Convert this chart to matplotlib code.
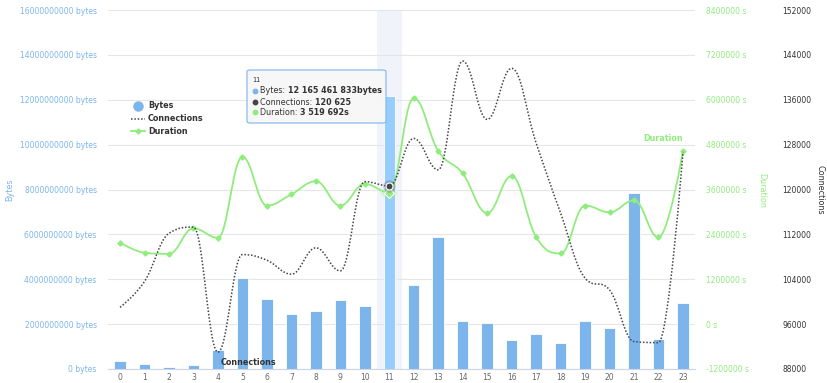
import matplotlib
matplotlib.use("Agg")
import matplotlib.pyplot as plt
from matplotlib.path import Path
from matplotlib.patches import PathPatch, FancyBboxPatch
from matplotlib.lines import Line2D
from matplotlib.text import Annotation
import numpy as np

# ---------------- data ----------------
hours = list(range(24))
bytes_vals = [3.7e8, 2.1e8, 0.9e8, 1.8e8, 8.5e8, 4.07e9, 3.12e9, 2.46e9, 2.58e9, 3.09e9,
              2.81e9, 12165461833, 3.73e9, 5.88e9, 2.15e9, 2.06e9, 1.28e9, 1.55e9, 1.14e9,
              2.12e9, 1.83e9, 7.84e9, 1.34e9, 2.94e9]
connections = [99000, 103600, 112200, 113300, 91000, 108400, 107400, 104900, 109600, 105500,
               121400, 120625, 129100, 123500, 142900, 132500, 141600, 128300, 115800,
               104200, 102100, 92900, 92700, 126700]
duration = [2.18e6, 1.91e6, 1.88e6, 2.56e6, 2.31e6, 4.47e6, 3.17e6, 3.47e6, 3.82e6, 3.17e6,
            3.75e6, 3519692, 6.04e6, 4.63e6, 4.03e6, 2.97e6, 3.96e6, 2.33e6, 1.89e6,
            3.17e6, 2.99e6, 3.31e6, 2.32e6, 4.63e6]
bytes_ticks = [0, 2e9, 4e9, 6e9, 8e9, 10e9, 12e9, 14e9, 16e9]
dur_ticks = [-1.2e6, 0, 1.2e6, 2.4e6, 3.6e6, 4.8e6, 6.0e6, 7.2e6, 8.4e6]
conn_ticks = [88000, 96000, 104000, 112000, 120000, 128000, 136000, 144000, 152000]
hover_idx = 11

BLUE = "#7cb5ec"
BLUE_HOVER = "#97cdfc"
GREEN = "#90ed7d"
DARK = "#434348"
TXT = "#333333"
GRID = "#e6e6e6"

W, H = 827, 383
fig = plt.figure(figsize=(W / 100, H / 100), dpi=100)
plt.rcParams['font.family'] = ['DejaVu Sans']

def fx(px):
    return px / W

def fy(py):
    return 1 - py / H

L, R, T, B = 107.8, 695.2, 10, 369
ax = fig.add_axes([fx(L), fy(B), fx(R) - fx(L), fy(T) - fy(B)])
ax2 = ax.twinx()
ax3 = ax.twinx()

def spline_path(xs, ys):
    n = len(xs)
    s, d = 1.5, 2.5
    lc = [(xs[i], ys[i]) for i in range(n)]
    rc = [(xs[i], ys[i]) for i in range(n)]
    for i in range(1, n - 1):
        x, y = xs[i], ys[i]
        lx = (s * x + xs[i - 1]) / d
        ly = (s * y + ys[i - 1]) / d
        rx = (s * x + xs[i + 1]) / d
        ry = (s * y + ys[i + 1]) / d
        if rx != lx:
            corr = ((ry - ly) * (rx - x)) / (rx - lx) + y - ry
            ly += corr
            ry += corr
        if ly > max(ys[i - 1], y):
            ly = max(ys[i - 1], y); ry = 2 * y - ly
        elif ly < min(ys[i - 1], y):
            ly = min(ys[i - 1], y); ry = 2 * y - ly
        if ry > max(y, ys[i + 1]):
            ry = max(y, ys[i + 1]); ly = 2 * y - ry
        elif ry < min(y, ys[i + 1]):
            ry = min(y, ys[i + 1]); ly = 2 * y - ry
        lc[i] = (lx, ly)
        rc[i] = (rx, ry)
    verts = [(xs[0], ys[0])]
    codes = [Path.MOVETO]
    for i in range(1, n):
        verts += [rc[i - 1], lc[i], (xs[i], ys[i])]
        codes += [Path.CURVE4] * 3
    return Path(verts, codes)

# ---------------- bytes axis ----------------
ax.set_xlim(-0.5, 23.5)
ax.set_ylim(0, 16e9)
ax.set_yticks(bytes_ticks)
ax.set_yticklabels([f"{int(v)} bytes" for v in bytes_ticks])
ax.set_xticks(hours)
ax.set_xticklabels([str(h) for h in hours])
ax.tick_params(axis='y', length=0, pad=8, labelsize=5.5, labelcolor=BLUE)
ax.tick_params(axis='x', length=0, pad=3, labelsize=5.5, labelcolor="#666666")
for sp in ['top', 'right', 'left']:
    ax.spines[sp].set_visible(False)
ax.spines['bottom'].set_color("#ccd6eb")
ax.spines['bottom'].set_linewidth(0.8)
ax.grid(axis='y', color=GRID, linewidth=0.8)
ax.set_axisbelow(True)

# hover band
ax.axvspan(hover_idx - 0.5, hover_idx + 0.5, color="#f0f3f9", zorder=0.5, linewidth=0)

colors = [BLUE_HOVER if i == hover_idx else BLUE for i in hours]
ax.bar(hours, bytes_vals, width=0.47, color=colors, edgecolor='white', linewidth=0.6, zorder=2)

# ---------------- duration axis ----------------
ax2.set_ylim(-1.2e6, 8.4e6)
ax2.set_yticks(dur_ticks)
ax2.set_yticklabels([f"{int(v)} s" for v in dur_ticks])
ax2.tick_params(axis='y', length=0, pad=8, labelsize=5.5, labelcolor=GREEN)
for sp in ax2.spines.values():
    sp.set_visible(False)
ax2.add_patch(PathPatch(spline_path(hours, duration), facecolor='none', edgecolor=GREEN,
                        linewidth=1.3, zorder=3))
ax2.plot(hours, duration, linestyle='none', marker='D', markersize=2.6, color=GREEN, zorder=4)
ax2.plot([hover_idx], [duration[hover_idx]], linestyle='none', marker='D', markersize=9,
         color=GREEN, alpha=0.25, markeredgewidth=0, zorder=4)
ax2.plot([hover_idx], [duration[hover_idx]], linestyle='none', marker='D', markersize=5,
         color=GREEN, markeredgecolor='white', markeredgewidth=0.8, zorder=6)

# ---------------- connections axis ----------------
ax3.set_ylim(88000, 152000)
ax3.set_yticks(conn_ticks)
ax3.set_yticklabels([str(v) for v in conn_ticks])
ax3.spines['right'].set_position(('outward', 54.5))
ax3.tick_params(axis='y', length=0, pad=8, labelsize=5.5, labelcolor=TXT)
for sp in ax3.spines.values():
    sp.set_visible(False)
ax3.add_patch(PathPatch(spline_path(hours, connections), facecolor='none', edgecolor=DARK,
                        linewidth=1.1, linestyle=(0, (1, 1.2)), zorder=3))
ax3.plot([hover_idx], [connections[hover_idx]], linestyle='none', marker='o', markersize=9,
         color=DARK, alpha=0.25, markeredgewidth=0, zorder=5)
ax3.plot([hover_idx], [connections[hover_idx]], linestyle='none', marker='o', markersize=5,
         color=DARK, markeredgecolor='white', markeredgewidth=0.8, zorder=5)

# series labels
ax3.text(4.1, 89200, "Connections", fontsize=5.8, fontweight='bold', color=TXT,
         ha='left', va='center', zorder=7)
ax2.text(23, 4.85e6, "Duration", fontsize=5.8, fontweight='bold', color=GREEN,
         ha='right', va='bottom', zorder=7)

# axis titles
fig.text(fx(10), fy(190), "Bytes", rotation=90, color=BLUE, fontsize=5.8, ha='center', va='center')
fig.text(fx(762), fy(190), "Duration", rotation=-90, color=GREEN, fontsize=5.8, ha='center', va='center')
fig.text(fx(820), fy(190), "Connections", rotation=-90, color=TXT, fontsize=5.8, ha='center', va='center')

# ---------------- legend ----------------
lg_x_sym, lg_x_txt = 138, 148
rows = [105.7, 118.7, 131]
fig.add_artist(Line2D([fx(lg_x_sym)], [fy(rows[0])], marker='o', markersize=6.5, color=BLUE,
                      linestyle='none', transform=fig.transFigure))
fig.add_artist(Line2D([fx(131), fx(145)], [fy(rows[1])] * 2, color=DARK, linewidth=1.1,
                      linestyle=(0, (1, 1.2)), transform=fig.transFigure))
fig.add_artist(Line2D([fx(131), fx(145)], [fy(rows[2])] * 2, color=GREEN, linewidth=1.3,
                      transform=fig.transFigure))
fig.add_artist(Line2D([fx(138)], [fy(rows[2])], marker='D', markersize=2.6, color=GREEN,
                      linestyle='none', transform=fig.transFigure))
for lab, r in zip(["Bytes", "Connections", "Duration"], rows):
    fig.text(fx(lg_x_txt), fy(r), lab, fontsize=5.8, fontweight='bold', color=TXT,
             ha='left', va='center')

# ---------------- tooltip ----------------
box = FancyBboxPatch((fx(247), fy(123)), fx(386) - fx(247), fy(70) - fy(123),
                     boxstyle="round,pad=0,rounding_size=0.004",
                     transform=fig.transFigure, facecolor=(0.97, 0.97, 0.97, 0.92),
                     edgecolor=BLUE, linewidth=0.8, zorder=10)
fig.add_artist(box)
fig.text(fx(252), fy(80), str(hours[hover_idx]), fontsize=4.8, color=TXT, ha='left',
         va='center', zorder=11)

def fmt(v):
    return f"{int(round(v)):,}".replace(",", " ")

tip_rows = [
    (90.7, BLUE, "Bytes: ", fmt(bytes_vals[hover_idx]) + "bytes"),
    (102.3, DARK, "Connections: ", fmt(connections[hover_idx])),
    (112.3, GREEN, "Duration: ", fmt(duration[hover_idx]) + "s"),
]
for yy, col, lab, val in tip_rows:
    fig.add_artist(Line2D([fx(254.5)], [fy(yy)], marker='o', markersize=3.2, color=col,
                          linestyle='none', transform=fig.transFigure, zorder=11))
    t = fig.text(fx(260), fy(yy), lab, fontsize=5.8, color=TXT, ha='left', va='center', zorder=11)
    ann = Annotation(val, xy=(1, 0.5), xycoords=t, fontsize=5.8, fontweight='bold',
                     color=TXT, ha='left', va='center', annotation_clip=False)
    ann.set_zorder(11)
    fig.add_artist(ann)

fig.savefig("out.png", dpi=100)
